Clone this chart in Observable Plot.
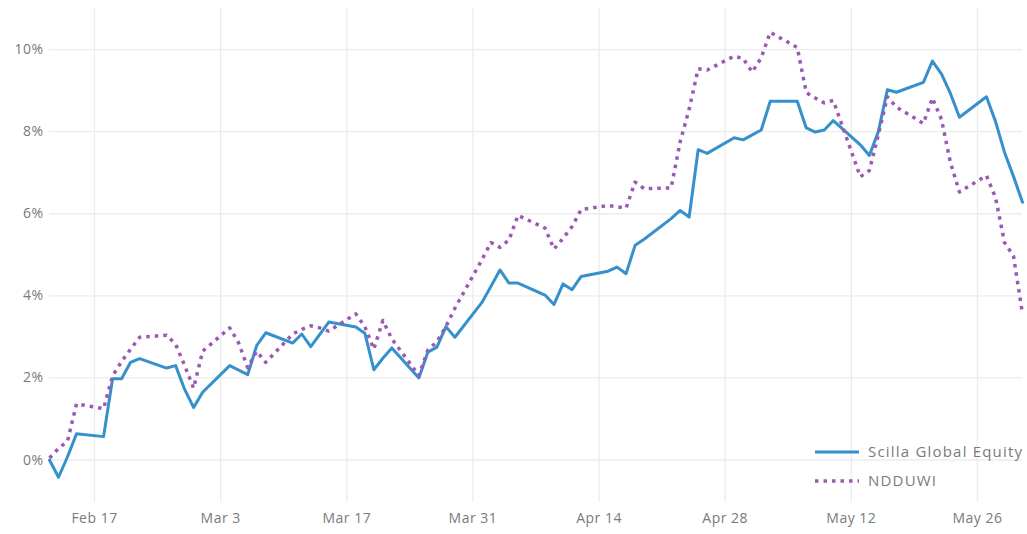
<!DOCTYPE html>
<html><head><meta charset="utf-8">
<script src="https://cdn.jsdelivr.net/npm/d3@7"></script>
<script src="https://cdn.jsdelivr.net/npm/@observablehq/plot@0.6"></script>
<style>
body{margin:0;background:#fff;}
#wrap{position:relative;width:1027px;height:534px;font-family:"Open Sans",sans-serif;}
#legend{position:absolute;left:815px;top:437px;font-size:15px;letter-spacing:1.2px;color:#7a7a7a;line-height:29px;}
#legend .row{display:flex;align-items:center;height:29px;white-space:nowrap;}
#legend svg{margin-right:9px;}
svg text{letter-spacing:0.5px;}
</style></head><body><div id="wrap"><div id="legend"></div></div>
<script>
const dates = [
"2019-02-12","2019-02-13","2019-02-14","2019-02-15",
"2019-02-18","2019-02-19","2019-02-20","2019-02-21","2019-02-22",
"2019-02-25","2019-02-26","2019-02-27","2019-02-28","2019-03-01",
"2019-03-04","2019-03-05","2019-03-06","2019-03-07","2019-03-08",
"2019-03-11","2019-03-12","2019-03-13","2019-03-14","2019-03-15",
"2019-03-18","2019-03-19","2019-03-20","2019-03-21","2019-03-22",
"2019-03-25","2019-03-26","2019-03-27","2019-03-28","2019-03-29",
"2019-04-01","2019-04-02","2019-04-03","2019-04-04","2019-04-05",
"2019-04-08","2019-04-09","2019-04-10","2019-04-11","2019-04-12",
"2019-04-15","2019-04-16","2019-04-17","2019-04-18","2019-04-19",
"2019-04-22","2019-04-23","2019-04-24","2019-04-25","2019-04-26",
"2019-04-29","2019-04-30","2019-05-01","2019-05-02","2019-05-03",
"2019-05-06","2019-05-07","2019-05-08","2019-05-09","2019-05-10",
"2019-05-13","2019-05-14","2019-05-15","2019-05-16","2019-05-17",
"2019-05-20","2019-05-21","2019-05-22","2019-05-23","2019-05-24",
"2019-05-27","2019-05-28","2019-05-29","2019-05-30","2019-05-31"];

const scilla = [
0.00,-0.42,0.08,0.64,
0.57,1.98,1.98,2.38,2.47,
2.24,2.30,1.72,1.28,1.65,
2.30,2.19,2.08,2.79,3.10,
2.85,3.07,2.76,3.06,3.36,
3.24,3.09,2.20,2.48,2.73,
2.00,2.63,2.75,3.25,2.99,
3.84,4.23,4.63,4.31,4.31,
4.02,3.79,4.29,4.15,4.47,
4.60,4.70,4.54,5.23,5.38,
5.88,6.08,5.92,7.56,7.47,
7.85,7.80,7.92,8.04,8.74,
8.74,8.09,7.99,8.04,8.27,
7.68,7.42,8.00,9.02,8.96,
9.20,9.72,9.41,8.93,8.35,
8.85,8.25,7.50,6.91,6.28];

const ndduwi = [
0.05,0.28,0.46,1.37,
1.25,2.05,2.40,2.70,2.99,
3.04,2.82,2.30,1.75,2.65,
3.22,2.85,2.25,2.65,2.38,
3.07,3.18,3.27,3.22,3.14,
3.56,3.25,2.70,3.40,2.95,
2.06,2.68,2.88,3.25,3.70,
4.88,5.30,5.18,5.36,5.96,
5.65,5.14,5.40,5.69,6.10,
6.20,6.17,6.14,6.77,6.61,
6.63,7.75,8.55,9.53,9.50,
9.84,9.78,9.45,9.80,10.42,
10.05,8.95,8.82,8.70,8.76,
6.90,7.05,7.92,8.85,8.60,
8.20,8.82,8.30,7.25,6.53,
6.93,6.40,5.30,4.97,3.56];

const seriesNames = ["Scilla Global Equity", "NDDUWI"];
const seriesColors = ["#3590cc", "#9c58b3"];
const yTicks = [0, 2, 4, 6, 8, 10];
const xTickLabels = ["2019-02-17","2019-03-03","2019-03-17","2019-03-31","2019-04-14","2019-04-28","2019-05-12","2019-05-26"];
const xDomain = ["2019-02-12","2019-05-31"];
const yDomain = [-1.035, 11.0];

const parse = d3.utcParse("%Y-%m-%d");
const rowsA = dates.map((d, i) => ({date: parse(d), value: scilla[i]}));
const rowsB = dates.map((d, i) => ({date: parse(d), value: ndduwi[i]}));
const xTickDates = xTickLabels.map(parse);

const chart = Plot.plot({
  width: 1027,
  height: 534,
  marginTop: 8,
  marginBottom: 32,
  marginLeft: 49,
  marginRight: 5,
  style: {fontFamily: '"Open Sans", sans-serif', fontSize: "14px", color: "#7a7a7a", background: "#fff"},
  x: {type: "utc", domain: xDomain.map(parse)},
  y: {domain: yDomain},
  marks: [
    Plot.gridX(xTickDates, {stroke: "#ececec", strokeOpacity: 1, strokeWidth: 1.3}),
    Plot.gridY(yTicks, {stroke: "#ececec", strokeOpacity: 1, strokeWidth: 1.3}),
    Plot.axisX(xTickDates, {tickSize: 0, tickPadding: 11, tickFormat: d3.utcFormat("%b %-d"), label: null, fontSize: 14}),
    Plot.axisY(yTicks, {tickSize: 0, tickPadding: 6, tickFormat: d => d + "%", label: null, fontSize: 14}),
    Plot.line(rowsA, {x: "date", y: "value", stroke: seriesColors[0], strokeWidth: 3}),
    Plot.line(rowsB, {x: "date", y: "value", stroke: seriesColors[1], strokeWidth: 3.5, strokeDasharray: "3.5,5", strokeLinecap: "butt"})
  ]
});
const wrap = document.getElementById("wrap");
wrap.insertBefore(chart, wrap.firstChild);

const legend = document.getElementById("legend");
seriesNames.forEach((name, i) => {
  const row = document.createElement("div");
  row.className = "row";
  const dash = i === 1 ? 'stroke-dasharray="3.5,5"' : '';
  row.innerHTML = `<svg width="44" height="8"><line x1="0" y1="4" x2="44" y2="4" stroke="${seriesColors[i]}" stroke-width="${i===1?3.5:3}" ${dash}/></svg><span>${name}</span>`;
  legend.appendChild(row);
});
</script>
</body></html>
